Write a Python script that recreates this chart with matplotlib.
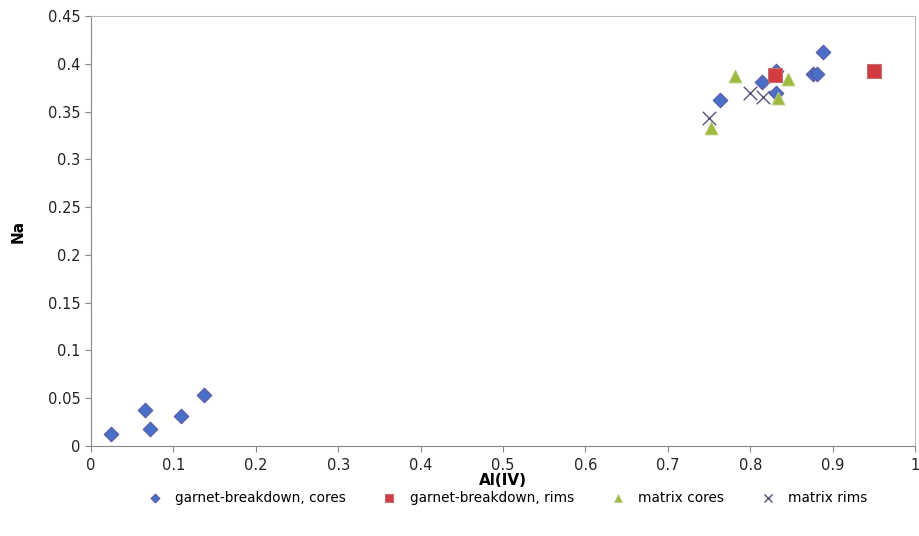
import matplotlib
matplotlib.use("Agg")
import matplotlib.pyplot as plt
from matplotlib.ticker import MultipleLocator, FuncFormatter

# Al(IV) vs Na per apfu, grouped by textural setting
gb_cores_al = [0.024, 0.066, 0.072, 0.109, 0.137,
               0.763, 0.814, 0.831, 0.831, 0.876, 0.881, 0.888]
gb_cores_na = [0.012, 0.038, 0.018, 0.031, 0.053,
               0.362, 0.381, 0.393, 0.369, 0.389, 0.389, 0.412]

gb_rims_al = [0.830, 0.950]
gb_rims_na = [0.388, 0.393]

mx_cores_al = [0.782, 0.752, 0.846, 0.834]
mx_cores_na = [0.387, 0.333, 0.384, 0.364]

mx_rims_al = [0.750, 0.800, 0.816]
mx_rims_na = [0.343, 0.369, 0.365]

fig = plt.figure(figsize=(9.2, 5.36), dpi=100)
ax = fig.add_axes([0.0989, 0.168, 0.8957, 0.802])

ax.scatter(gb_cores_al, gb_cores_na, marker="D", s=55, color="#4a6fc9",
           edgecolors="#5a5aa0", linewidths=0.8, zorder=3,
           label="garnet-breakdown, cores")
ax.scatter(gb_rims_al, gb_rims_na, marker="s", s=95, color="#d23b3f",
           edgecolors="#c07070", linewidths=0.8, zorder=4,
           label="garnet-breakdown, rims")
ax.scatter(mx_cores_al, mx_cores_na, marker="^", s=85, color="#9cbb3e",
           edgecolors="#b4c97a", linewidths=0.6, zorder=3,
           label="matrix cores")
ax.scatter(mx_rims_al, mx_rims_na, marker="x", s=95, color="#55557a",
           linewidths=1.0, zorder=5, label="matrix rims")

ax.set_xlim(0, 1)
ax.set_ylim(0, 0.45)
ax.xaxis.set_major_locator(MultipleLocator(0.1))
ax.yaxis.set_major_locator(MultipleLocator(0.05))
fmt = FuncFormatter(lambda v, _: f"{v:.2f}".rstrip("0").rstrip("."))
ax.xaxis.set_major_formatter(fmt)
ax.yaxis.set_major_formatter(fmt)

for side in ("top", "right"):
    ax.spines[side].set_color("#bbbbbb")
for side in ("left", "bottom"):
    ax.spines[side].set_color("#888888")
ax.tick_params(direction="out", length=4, color="#888888",
               labelsize=10.5, labelcolor="#222222")
ax.tick_params(axis="x", pad=5)

ax.set_xlabel("Al(IV)", fontsize=11, fontweight="bold", labelpad=0)
ax.set_ylabel("Na", fontsize=11, fontweight="bold", labelpad=16)

leg = fig.legend(loc="center", bbox_to_anchor=(0.548, 0.071), ncol=4,
                 frameon=False, fontsize=9.8, handletextpad=0.5,
                 columnspacing=2.2, markerscale=0.6)

fig.savefig("out.png", dpi=100)
